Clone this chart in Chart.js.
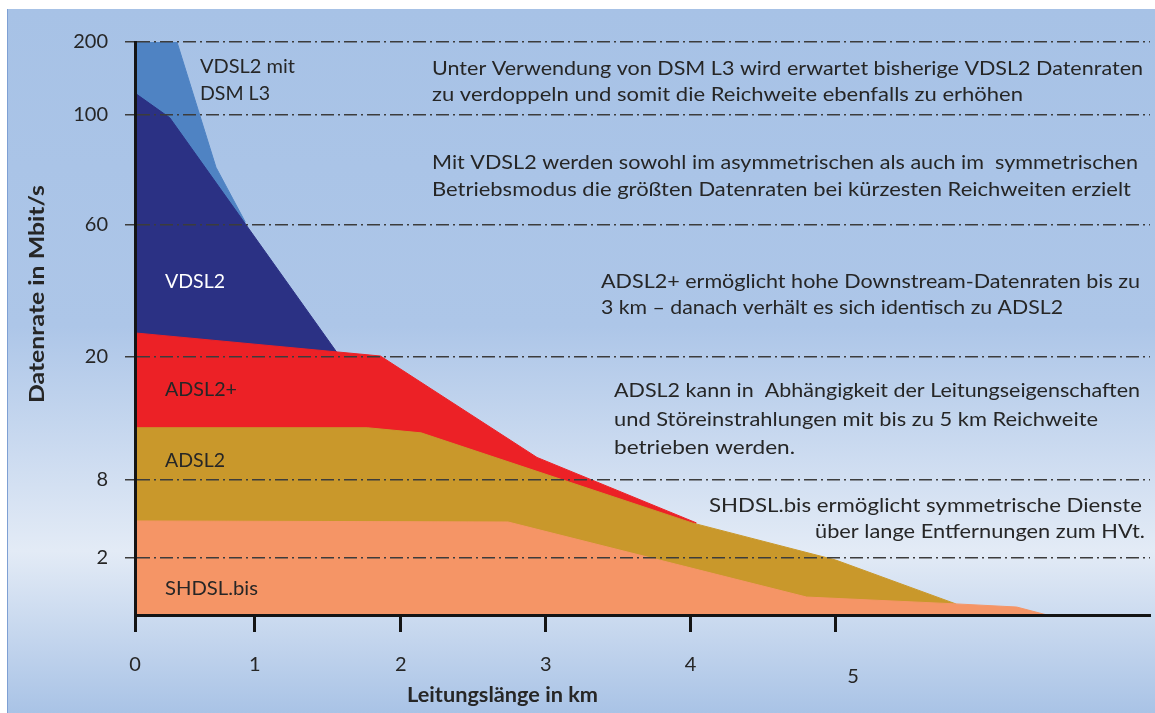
<!DOCTYPE html>
<html lang="de">
<head>
<meta charset="utf-8">
<title>DSL-Technologien: Datenrate und Reichweite</title>
<script src="https://cdn.jsdelivr.net/npm/chart.js@4.4.1/dist/chart.umd.min.js"></script>
<style>
  html, body { margin: 0; padding: 0; background: #fff; }
  #wrap { position: relative; width: 1155px; height: 713px; overflow: hidden; }
  #panel {
    position: absolute; left: 7px; top: 9px; right: 0; bottom: 0;
    border-left: 1px solid #7ea0d4;
    background: linear-gradient(to bottom, #a7c2e6 0%, #adc6e8 45%, #e3ebf6 77%, #a9c3e6 100%);
  }
  canvas { position: absolute; left: 0; top: 0; }
</style>
</head>
<body>
<div id="wrap">
  <div id="panel"></div>
  <canvas id="dsl-chart" width="1155" height="713"></canvas>
</div>
<script>
// Teilstriche der beiden Achsen
const KM_TICKS = [0, 1, 2, 3, 4, 5]
const RATE_TICKS = [0, 2, 8, 20, 60, 100, 200]

// Die Achsen sind im Original nicht linear: Abstand je Intervall (px)
const KM_GAPS = [120, 146, 145, 145, 145]
const RATE_GAPS = [57, 78, 123, 132, 110, 73]
const KM_AXIS_END = 7.17

// Eckpunkte der Flächen: Leitungslänge (km) / Datenrate (Mbit/s)
const DSM_KM = [0, 0.35, 0.675, 0.92]
const DSM_RATE = [200, 200, 81, 61]

const VDSL2_KM = [0, 0.29, 1.56]
const VDSL2_RATE = [130, 99, 21.5]

const ADSL2P_KM = [0, 1.86, 2.94, 4.04]
const ADSL2P_RATE = [27.3, 20.3, 10.2, 4.7]

const ADSL2_KM = [0, 1.77, 2.14, 4.01, 5.0, 5.83]
const ADSL2_RATE = [13.1, 13.1, 12.6, 4.7, 1.93, 0.39]

const SHDSL_KM = [0, 2.74, 4.8, 5.83, 6.25, 6.46]
const SHDSL_RATE = [4.85, 4.77, 0.63, 0.39, 0.28, 0]

// vorderste Fläche zuerst
const SERIES = [
  { label: 'SHDSL.bis', km: SHDSL_KM, rate: SHDSL_RATE, color: '#f59566' },
  { label: 'ADSL2', km: ADSL2_KM, rate: ADSL2_RATE, color: '#c9982b' },
  { label: 'ADSL2+', km: ADSL2P_KM, rate: ADSL2P_RATE, color: '#ec2126' },
  { label: 'VDSL2', km: VDSL2_KM, rate: VDSL2_RATE, color: '#2b3184' },
  { label: 'VDSL2 mit DSM L3', km: DSM_KM, rate: DSM_RATE, color: '#4f83c3' },
]

// stückweise lineare Abbildung Wert -> Achsenposition
function toAxis(v, stops, gaps) {
  let pos = 0
  for (let i = 0; i < gaps.length; i++) {
    const a = stops[i], b = stops[i + 1]
    if (v <= b || i === gaps.length - 1) return pos + (v - a) / (b - a) * gaps[i]
    pos += gaps[i]
  }
}
const kmToAxis = k => toAxis(k, KM_TICKS, KM_GAPS)
const rateToAxis = r => toAxis(r, RATE_TICKS, RATE_GAPS)

const INK = '#262626'
const GRID = '#3c3c3c'
const DASH = [13, 4, 2, 4]

// Beschriftungen im Diagramm (x = linker Rand, y = Grundlinie, w = Breite)
const NOTES = [
  { t: 'VDSL2 mit', x: 200, y: 73, w: 95 },
  { t: 'DSM L3', x: 200, y: 100, w: 70 },
  { t: 'Unter Verwendung von DSM L3 wird erwartet bisherige VDSL2 Datenraten', x: 432, y: 75, w: 711 },
  { t: 'zu verdoppeln und somit die Reichweite ebenfalls zu erhöhen', x: 432, y: 101, w: 591 },
  { t: 'Mit VDSL2 werden sowohl im asymmetrischen als auch im  symmetrischen', x: 432, y: 169, w: 706 },
  { t: 'Betriebsmodus die größten Datenraten bei kürzesten Reichweiten erzielt', x: 432, y: 196, w: 699 },
  { t: 'VDSL2', x: 165, y: 288, w: 60, c: '#ffffff' },
  { t: 'ADSL2+ ermöglicht hohe Downstream-Datenraten bis zu', x: 601, y: 288, w: 539 },
  { t: '3 km – danach verhält es sich identisch zu ADSL2', x: 601, y: 314, w: 462 },
  { t: 'ADSL2+', x: 165, y: 396, w: 72 },
  { t: 'ADSL2 kann in  Abhängigkeit der Leitungseigenschaften', x: 614, y: 397, w: 526 },
  { t: 'und Störeinstrahlungen mit bis zu 5 km Reichweite', x: 614, y: 426, w: 484 },
  { t: 'betrieben werden.', x: 614, y: 454, w: 181 },
  { t: 'ADSL2', x: 165, y: 467, w: 60 },
  { t: 'SHDSL.bis ermöglicht symmetrische Dienste', x: 709, y: 512, w: 433 },
  { t: 'über lange Entfernungen zum HVt.', x: 815, y: 538, w: 330 },
  { t: 'SHDSL.bis', x: 165, y: 595, w: 93 },
]

function fitText(ctx, text, left, base, width) {
  const w = ctx.measureText(text).width
  ctx.save()
  ctx.translate(left, base)
  ctx.scale(width / w, 1)
  ctx.fillText(text, 0, 0)
  ctx.restore()
}

const notesPlugin = {
  id: 'notes',
  afterDraw(chart) {
    const ctx = chart.ctx
    ctx.save()
    ctx.textAlign = 'left'
    ctx.textBaseline = 'alphabetic'
    ctx.font = '20px Lato'
    NOTES.forEach(n => {
      ctx.fillStyle = n.c || INK
      fitText(ctx, n.t, n.x, n.y, n.w)
    })

    // Achsentitel
    ctx.fillStyle = INK
    ctx.font = 'bold 21px Lato'
    fitText(ctx, 'Leitungslänge in km', 407, 702, 191)
    ctx.translate(44, 294)
    ctx.rotate(-Math.PI / 2)
    fitText(ctx, 'Datenrate in Mbit/s', -109, 0, 218)
    ctx.restore()
  },
}

const datasets = SERIES.map((s, i) => ({
  label: s.label,
  data: s.km.map((k, j) => ({ x: kmToAxis(k), y: rateToAxis(s.rate[j]) })),
  backgroundColor: s.color,
  borderColor: s.color,
  borderWidth: 1,
  fill: 'origin',
  pointRadius: 0,
  tension: 0,
  order: i,
}))

new Chart(document.getElementById('dsl-chart'), {
  type: 'line',
  data: { datasets },
  options: {
    responsive: false,
    animation: false,
    layout: { padding: { top: 42, right: 5, left: 0, bottom: 0 } },
    plugins: { legend: { display: false }, tooltip: { enabled: false } },
    scales: {
      x: {
        type: 'linear',
        min: 0,
        max: kmToAxis(KM_AXIS_END),
        afterBuildTicks: s => { s.ticks = KM_TICKS.map(k => ({ value: kmToAxis(k) })) },
        afterFit: s => { s.height = 98 },
        grid: { drawOnChartArea: false, tickLength: 17, tickWidth: 3, tickColor: '#141414' },
        border: { color: '#141414', width: 3, z: 1 },
        ticks: {
          autoSkip: false,
          maxRotation: 0,
          padding: 21,
          color: INK,
          font: c => ({ family: 'Lato', size: 20, lineHeight: c.index === 5 ? 0.8 : 1.2 }),
          // die "5" steht im Original tiefer und etwas rechts
          callback: (v, i) => i === 5 ? ['', '\u2007\u2007\u2007' + KM_TICKS[i]] : String(KM_TICKS[i]),
        },
      },
      y: {
        type: 'linear',
        min: 0,
        max: rateToAxis(200),
        afterBuildTicks: s => { s.ticks = RATE_TICKS.map(r => ({ value: rateToAxis(r) })) },
        afterFit: s => { s.width = 135 },
        grid: {
          z: 1,
          lineWidth: 1.5,
          color: c => c.tick && c.tick.value === 0 ? 'transparent' : GRID,
          tickColor: c => c.tick && c.tick.value === 0 ? 'transparent' : GRID,
          tickLength: 10,
          tickBorderDash: DASH,
        },
        border: { color: '#141414', width: 3, z: 1, dash: DASH },
        ticks: {
          padding: 17,
          color: INK,
          font: { family: 'Lato', size: 20 },
          callback: (v, i) => RATE_TICKS[i] === 0 ? '' : String(RATE_TICKS[i]),
        },
      },
    },
  },
  plugins: [notesPlugin],
})
</script>
</body>
</html>
